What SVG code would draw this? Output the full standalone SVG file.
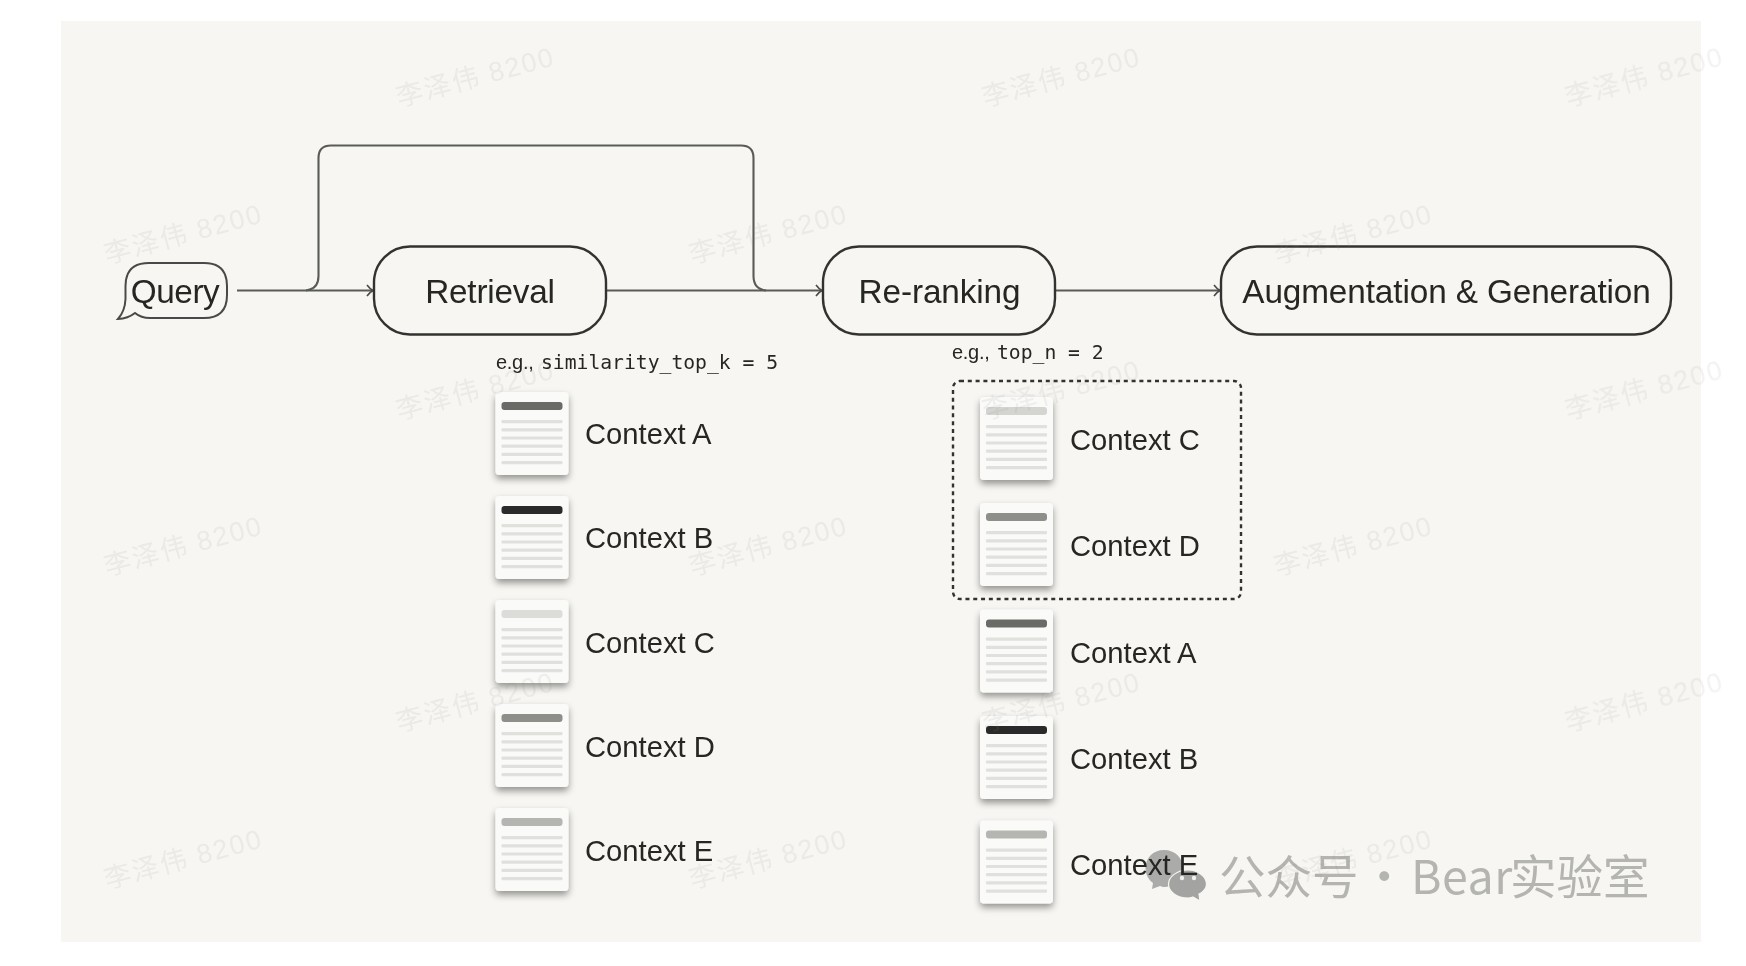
<svg xmlns="http://www.w3.org/2000/svg" width="1746" height="966" viewBox="0 0 1746 966">
<style>
.box{fill:none;stroke:#333331;stroke-width:2.4}
.wire{fill:none;stroke:#5a5a58;stroke-width:2.1}
.t{font-family:"Liberation Sans",Arial,sans-serif;fill:#262624}
.title{font-size:33.300px;text-anchor:middle;letter-spacing:-.1px}
.ctx{font-size:29.200px}
.note{font-size:20px;letter-spacing:-.3px}
.mono{font-family:"DejaVu Sans Mono","Liberation Mono",monospace;font-size:19.700px;letter-spacing:0}
.wm{font-family:"Liberation Sans","Noto Sans CJK SC",sans-serif;font-size:27px;letter-spacing:1.800px;fill:#8c8c88;fill-opacity:.11}
.logo{font-family:"Noto Sans CJK SC","Liberation Sans",sans-serif;font-size:46.500px;fill:#b4b4b1}
.page{fill:#fafaf8}
.ln{fill:#e0e0dd}
</style>
<defs>
<filter id="soft" x="-2%" y="-2%" width="104%" height="104%"><feGaussianBlur stdDeviation="0.55"/></filter>
<filter id="sh" x="-30%" y="-30%" width="160%" height="170%"><feDropShadow dx="0" dy="4" stdDeviation="3.500" flood-color="#000" flood-opacity=".4"/></filter>
<marker id="arr" markerWidth="12" markerHeight="14" refX="9" refY="7" orient="auto" markerUnits="userSpaceOnUse"><path d="M3,1.500 Q6,5.500 9,7 Q6,8.500 3,12.500" fill="none" stroke="#4a4a48" stroke-width="1.600"/></marker>
<g id="doc">
<rect class="page" width="73" height="83" rx="4" filter="url(#sh)"/>
<rect class="ln" x="6" y="28" width="61" height="3.200" rx="1"/>
<rect class="ln" x="6" y="36.200" width="61" height="3.200" rx="1"/>
<rect class="ln" x="6" y="44.400" width="61" height="3.200" rx="1"/>
<rect class="ln" x="6" y="52.600" width="61" height="3.200" rx="1"/>
<rect class="ln" x="6" y="60.800" width="61" height="3.200" rx="1"/>
<rect class="ln" x="6" y="69" width="61" height="3.200" rx="1"/>
</g>
</defs>
<rect width="1746" height="966" fill="#fff"/>
<g filter="url(#soft)">
<rect id="panel" x="61" y="21" width="1640" height="921" fill="#f7f6f2"/>
<g id="connectors">
<path class="wire" d="M237,290.500H373" marker-end="url(#arr)"/>
<path class="wire" d="M306,290.500Q318.500,289 318.500,276V158Q318.500,145.500 331,145.500H741Q753.500,145.500 753.500,158V276Q753.500,289 766,290.500"/>
<path class="wire" d="M606,290.500H822" marker-end="url(#arr)"/>
<path class="wire" d="M1055,290.500H1220" marker-end="url(#arr)"/>
</g>
<g id="query"><path class="box" style="stroke:#4a4a48;stroke-width:2" d="M149,263H204Q227,263 227,286V295Q227,318 204,318H150Q141,318 135,313Q128,318.500 118,319Q125,311 125.500,299V286Q125.500,263 149,263Z"/>
<text class="t title" x="175" y="303" style="letter-spacing:-.4px">Query</text></g>
<g id="retrieval"><rect class="box" x="374" y="246.500" width="232" height="88" rx="36"/><text class="t title" x="490" y="303" style="letter-spacing:-.2px">Retrieval</text></g>
<g id="reranking"><rect class="box" x="823" y="246.500" width="232" height="88" rx="36"/><text class="t title" x="939.500" y="303">Re-ranking</text></g>
<g id="augmentation"><rect class="box" x="1221" y="246.500" width="450" height="88" rx="36"/><text class="t title" x="1446.500" y="303">Augmentation &amp; Generation</text></g>
<g id="note-k"><text class="t note" x="496" y="369">e.g.,<tspan class="mono" x="541">similarity_top_k = 5</tspan></text></g>
<g id="note-n"><text class="t note" x="952" y="359">e.g.,<tspan class="mono" x="997">top_n = 2</tspan></text></g>
<g id="topn-box"><rect x="953" y="381" width="288" height="218" rx="7" fill="none" stroke="#333331" stroke-width="2.400" stroke-dasharray="4 3.800"/></g>
<g id="brand">
<path d="M1164,850C1153,850 1145.500,858 1145.500,868C1145.500,875 1149,880 1153,883L1152,889L1160,886C1162,887 1164,887 1165,887C1175,887 1183,878 1183,868C1183,858 1175,850 1164,850Z" fill="#ababa9"/>
<path d="M1188,870C1177,870 1168.500,877 1168.500,884C1168.500,892 1177,898 1188,898C1190,898 1192,898 1193,897L1200,901L1199,894C1203,892 1206.500,888 1206.500,884C1206.500,877 1198,870 1188,870Z" fill="#a3a3a1" stroke="#f7f6f2" stroke-width="1.200"/>
<circle cx="1182" cy="878" r="2.200" fill="#f0f0ed"/><circle cx="1194" cy="878" r="2.200" fill="#f0f0ed"/>
<text class="logo" y="893.500"><tspan x="1219">公众号</tspan><tspan x="1361">·</tspan><tspan x="1411" style="letter-spacing:.5px">Bear</tspan><tspan x="1510">实验室</tspan></text>
</g>
<g id="left-a"><use href="#doc" x="495.500" y="392"/><rect x="501.500" y="402" width="61" height="8" rx="3" fill="#6a6a66"/><text class="t ctx" x="585" y="444">Context A</text></g>
<g id="left-b"><use href="#doc" x="495.500" y="496"/><rect x="501.500" y="506" width="61" height="8" rx="3" fill="#2b2b29"/><text class="t ctx" x="585" y="548">Context B</text></g>
<g id="left-c"><use href="#doc" x="495.500" y="600"/><rect x="501.500" y="610" width="61" height="8" rx="3" fill="#dcdcd9"/><text class="t ctx" x="585" y="653">Context C</text></g>
<g id="left-d"><use href="#doc" x="495.500" y="704"/><rect x="501.500" y="714" width="61" height="8" rx="3" fill="#8e8e8b"/><text class="t ctx" x="585" y="757">Context D</text></g>
<g id="left-e"><use href="#doc" x="495.500" y="808"/><rect x="501.500" y="818" width="61" height="8" rx="3" fill="#b5b5b2"/><text class="t ctx" x="585" y="861">Context E</text></g>
<g id="right-c"><use href="#doc" x="980" y="397"/><rect x="986" y="407" width="61" height="8" rx="3" fill="#d4d4d1"/><text class="t ctx" x="1070" y="449.500">Context C</text></g>
<g id="right-d"><use href="#doc" x="980" y="503"/><rect x="986" y="513" width="61" height="8" rx="3" fill="#8e8e8b"/><text class="t ctx" x="1070" y="556">Context D</text></g>
<g id="right-a"><use href="#doc" x="980" y="609.500"/><rect x="986" y="619.500" width="61" height="8" rx="3" fill="#6a6a66"/><text class="t ctx" x="1070" y="663">Context A</text></g>
<g id="right-b"><use href="#doc" x="980" y="716"/><rect x="986" y="726" width="61" height="8" rx="3" fill="#2b2b29"/><text class="t ctx" x="1070" y="769">Context B</text></g>
<g id="right-e"><use href="#doc" x="980" y="820.500"/><rect x="986" y="830.500" width="61" height="8" rx="3" fill="#b5b5b2"/><text class="t ctx" x="1070" y="875">Context E</text></g>
<g id="watermarks">
<text class="wm" transform="translate(399,107) rotate(-15)">李泽伟 8200</text>
<text class="wm" transform="translate(985,107) rotate(-15)">李泽伟 8200</text>
<text class="wm" transform="translate(1568,107) rotate(-15)">李泽伟 8200</text>
<text class="wm" transform="translate(107,264) rotate(-15)">李泽伟 8200</text>
<text class="wm" transform="translate(692,264) rotate(-15)">李泽伟 8200</text>
<text class="wm" transform="translate(1277,264) rotate(-15)">李泽伟 8200</text>
<text class="wm" transform="translate(399,420) rotate(-15)">李泽伟 8200</text>
<text class="wm" transform="translate(985,420) rotate(-15)">李泽伟 8200</text>
<text class="wm" transform="translate(1568,420) rotate(-15)">李泽伟 8200</text>
<text class="wm" transform="translate(107,576) rotate(-15)">李泽伟 8200</text>
<text class="wm" transform="translate(692,576) rotate(-15)">李泽伟 8200</text>
<text class="wm" transform="translate(1277,576) rotate(-15)">李泽伟 8200</text>
<text class="wm" transform="translate(399,732) rotate(-15)">李泽伟 8200</text>
<text class="wm" transform="translate(985,732) rotate(-15)">李泽伟 8200</text>
<text class="wm" transform="translate(1568,732) rotate(-15)">李泽伟 8200</text>
<text class="wm" transform="translate(107,889) rotate(-15)">李泽伟 8200</text>
<text class="wm" transform="translate(692,889) rotate(-15)">李泽伟 8200</text>
<text class="wm" transform="translate(1277,889) rotate(-15)">李泽伟 8200</text>
</g>
</g>
</svg>
